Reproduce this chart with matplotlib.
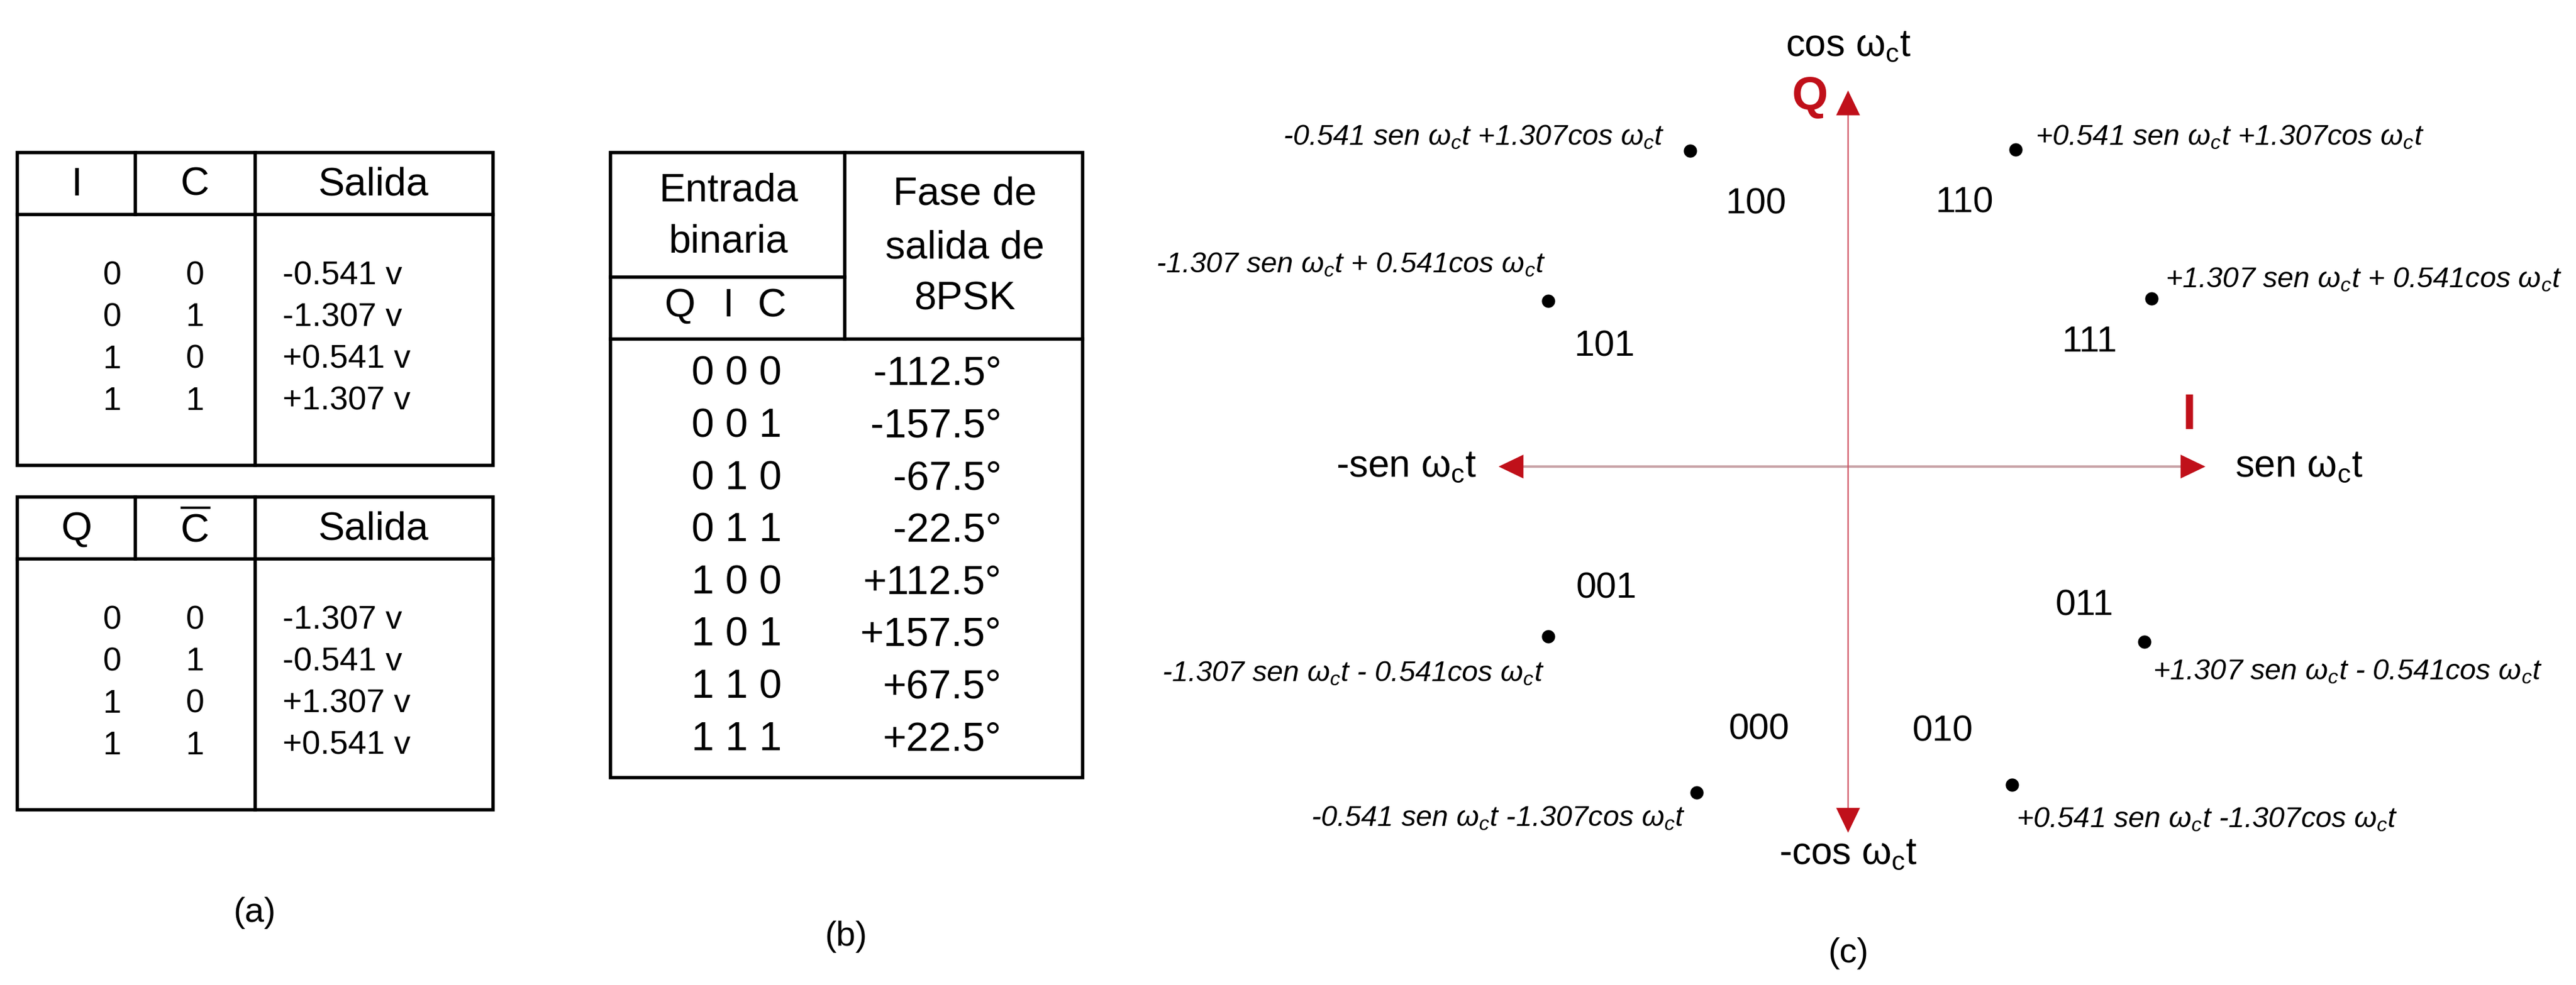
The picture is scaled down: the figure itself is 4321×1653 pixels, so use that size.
import matplotlib
matplotlib.use('Agg')
from matplotlib import pyplot as plt
from matplotlib.patches import Rectangle

plt.rcParams['font.family'] = ['Liberation Sans', 'DejaVu Sans']
plt.rcParams['mathtext.fontset'] = 'custom'
plt.rcParams['mathtext.rm'] = 'Liberation Sans'
plt.rcParams['mathtext.it'] = 'Liberation Sans:italic'

# Data ----------------------------------------------------------------------------------------------------------------
a1_header = ['I', 'C', 'Salida']
a1_i = [0, 0, 1, 1]
a1_c = [0, 1, 0, 1]
a1_out = ['-0.541 v', '-1.307 v', '+0.541 v', '+1.307 v']

a2_header = ['Q', r'$\overline{\mathrm{C}}$', 'Salida']
a2_q = [0, 0, 1, 1]
a2_cbar = [0, 1, 0, 1]
a2_out = ['-1.307 v', '-0.541 v', '+1.307 v', '+0.541 v']

b_bits = ['0 0 0', '0 0 1', '0 1 0', '0 1 1', '1 0 0', '1 0 1', '1 1 0', '1 1 1']
b_phase = ['-112.5°', '-157.5°', '-67.5°', '-22.5°', '+112.5°', '+157.5°', '+67.5°', '+22.5°']

c_bits = ['100', '110', '101', '111', '001', '011', '000', '010']
c_x = [-0.687, 0.728, -1.303, 1.319, -1.303, 1.288, -0.658, 0.712]
c_y = [1.296, 1.301, 0.680, 0.689, -0.697, -0.719, -1.337, -1.306]
W_C = r'ω$_{\mathit{c}}$t'
c_expr = ['-0.541 sen ' + W_C + ' +1.307cos ' + W_C,
          '+0.541 sen ' + W_C + ' +1.307cos ' + W_C,
          '-1.307 sen ' + W_C + ' + 0.541cos ' + W_C,
          '+1.307 sen ' + W_C + ' + 0.541cos ' + W_C,
          '-1.307 sen ' + W_C + ' - 0.541cos ' + W_C,
          '+1.307 sen ' + W_C + ' - 0.541cos ' + W_C,
          '-0.541 sen ' + W_C + ' -1.307cos ' + W_C,
          '+0.541 sen ' + W_C + ' -1.307cos ' + W_C]

# label offsets in pixels (bit label, expression, expression alignment)
c_layout = [((111, -90), (-43, 23), 'right'),
            ((-86, -90), (33, 21), 'left'),
            ((94, -77), (-4, 61), 'right'),
            ((-104, -73), (23, 32), 'left'),
            ((98, 80), (-7, -62), 'right'),
            ((-101, 60), (14, -50), 'left'),
            ((105, 105), (-19, -43), 'right'),
            ((-116, 89), (7, -58), 'left')]

W, H = 4321, 1653
LW = 4.0
RED = '#c0101a'


def render_table_a(ax, top, header, col1, col2, out):
    left, right, height = 29, 827, 525
    ax.add_patch(Rectangle((left, top), right - left, height, fill=False, lw=LW, ec='black'))
    ax.plot([left, right], [top + 104, top + 104], color='black', lw=LW)
    ax.plot([227, 227], [top, top + 104], color='black', lw=LW)
    ax.plot([428, 428], [top, top + height], color='black', lw=LW)
    for x, h in zip([129, 327, 626], header):
        ax.text(x, top + 55, h, ha='center', va='center', fontsize=48)
    for i in range(len(out)):
        y = top + 207 + i * 70.3
        ax.text(188, y, str(col1[i]), ha='center', va='center', fontsize=40)
        ax.text(327, y, str(col2[i]), ha='center', va='center', fontsize=40)
        ax.text(474, y, out[i], ha='left', va='center', fontsize=40)


def render_table_b(ax):
    left, right, top, bottom = 1024, 1816, 256, 1305
    ax.add_patch(Rectangle((left, top), right - left, bottom - top, fill=False, lw=LW, ec='black'))
    ax.plot([1417, 1417], [top, 569], color='black', lw=LW)
    ax.plot([left, 1417], [465, 465], color='black', lw=LW)
    ax.plot([left, right], [569, 569], color='black', lw=LW)
    ax.text(1222, 320, 'Entrada', ha='center', va='center', fontsize=48)
    ax.text(1222, 406, 'binaria', ha='center', va='center', fontsize=48)
    for x, h in zip([1141, 1222, 1295], ['Q', 'I', 'C']):
        ax.text(x, 514, h, ha='center', va='center', fontsize=48)
    ax.text(1618, 326, 'Fase de', ha='center', va='center', fontsize=48)
    ax.text(1618, 416, 'salida de', ha='center', va='center', fontsize=48)
    ax.text(1618, 502, '8PSK', ha='center', va='center', fontsize=48)
    for i in range(len(b_bits)):
        y = 628 + i * 87.6
        ax.text(1236, y, b_bits[i], ha='center', va='center', fontsize=49)
        ax.text(1680, y, b_phase[i], ha='right', va='center', fontsize=49)


def render_constellation(axc):
    axc.plot([-1.50, 1.54], [0, 0], color='#c9a4a8', lw=3, zorder=1)
    axc.plot([0, 0], [-1.48, 1.52], color='#d05464', lw=1.6, zorder=1)
    head = dict(arrowstyle='-|>,head_length=1.5,head_width=0.72', color=RED, lw=0, mutation_scale=20)
    for tip, tail in [((0, 1.550), (0, 1.40)), ((0, -1.509), (0, -1.36)),
                      ((-1.526, 0), (-1.40, 0)), ((1.560, 0), (1.43, 0))]:
        axc.annotate('', xy=tip, xytext=tail, arrowprops=head, zorder=2)
    axc.text(0, 1.726, 'cos ' + r'ω$_{\mathrm{c}}$t', ha='center', va='center', fontsize=46)
    axc.text(0, -1.589, '-cos ' + r'ω$_{\mathrm{c}}$t', ha='center', va='center', fontsize=46)
    axc.text(-1.614, 0.0, '-sen ' + r'ω$_{\mathrm{c}}$t', ha='right', va='center', fontsize=46)
    axc.text(1.681, 0.0, 'sen ' + r'ω$_{\mathrm{c}}$t', ha='left', va='center', fontsize=46)
    axc.text(-0.165, 1.515, 'Q', ha='center', va='center', fontsize=56, fontweight='bold', color=RED)
    axc.text(1.482, 0.208, 'I', ha='center', va='center', fontsize=60, fontweight='bold', color=RED)

    axc.plot(c_x, c_y, 'o', color='black', ms=15, zorder=3)
    for i in range(len(c_bits)):
        bit_off, expr_off, ha = c_layout[i]
        axc.annotate(c_bits[i], (c_x[i], c_y[i]), xytext=bit_off, textcoords='offset pixels',
                     ha='center', va='center', fontsize=44)
        axc.annotate(c_expr[i], (c_x[i], c_y[i]), xytext=expr_off, textcoords='offset pixels',
                     ha=ha, va='center', fontsize=35, fontstyle='italic')


fig = plt.figure(figsize=(W / 100, H / 100), dpi=100)
ax = fig.add_axes([0, 0, 1, 1])
ax.set_xlim(0, W)
ax.set_ylim(H, 0)
ax.axis('off')

render_table_a(ax, 256, a1_header, a1_i, a1_c, a1_out)
render_table_a(ax, 834, a2_header, a2_q, a2_cbar, a2_out)
render_table_b(ax)
ax.text(427, 1532, '(a)', ha='center', va='center', fontsize=42)
ax.text(1419, 1572, '(b)', ha='center', va='center', fontsize=42)
ax.text(3100, 1600, '(c)', ha='center', va='center', fontsize=42)

axc = fig.add_axes([1900 / W, 0, (W - 1900) / W, 1])
axc.set_xlim((1900 - 3100) / 386, (W - 3100) / 386)
axc.set_ylim((783 - H) / 409, 783 / 409)
axc.patch.set_alpha(0)
axc.axis('off')
render_constellation(axc)

fig.savefig('out.png', dpi=100)
